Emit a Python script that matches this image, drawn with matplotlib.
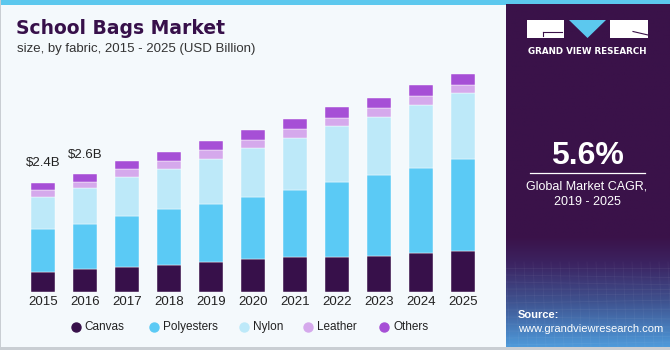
import numpy as np
import matplotlib
matplotlib.use("Agg")
import matplotlib.pyplot as plt
from matplotlib.patches import Rectangle, Polygon
from matplotlib.colors import LinearSegmentedColormap

years = ["2015", "2016", "2017", "2018", "2019", "2020", "2021", "2022", "2023", "2024", "2025"]
canvas = [0.44, 0.50, 0.55, 0.59, 0.65, 0.72, 0.77, 0.77, 0.80, 0.85, 0.91]
polyesters = [0.94, 0.99, 1.11, 1.23, 1.29, 1.37, 1.47, 1.65, 1.76, 1.88, 2.00]
nylon = [0.71, 0.78, 0.86, 0.88, 0.98, 1.06, 1.14, 1.22, 1.27, 1.37, 1.46]
leather = [0.15, 0.15, 0.17, 0.18, 0.20, 0.18, 0.20, 0.18, 0.20, 0.20, 0.18]
others = [0.16, 0.17, 0.18, 0.20, 0.20, 0.22, 0.22, 0.23, 0.22, 0.23, 0.24]
series_names = ["Canvas", "Polyesters", "Nylon", "Leather", "Others"]
colors = ["#37104A", "#5BCAF5", "#BDE9F9", "#D5A9EC", "#A64FD6"]
annotations = {0: "$2.4B", 1: "$2.6B"}

W, H = 670, 350
fig = plt.figure(figsize=(6.7, 3.5), dpi=100)
fig.patch.set_facecolor("#F4F9FC")

def fx(px):
    return px / W

def fy(py):
    return 1 - py / H

# background decorations
bg = fig.add_axes([0, 0, 1, 1], zorder=0)
bg.set_xlim(0, W)
bg.set_ylim(H, 0)
bg.axis("off")
bg.add_patch(Rectangle((0, 0), W, 4.5, color="#5CC8EE", lw=0))
bg.add_patch(Rectangle((0, 0), 1.2, H, color="#C9CED3", lw=0))
bg.add_patch(Rectangle((0, 347), W, 3, color="#C9CED3", lw=0))

# right panel with gradient
px0, px1, py0, py1 = 506, 670, 4.5, 347
cmap = LinearSegmentedColormap.from_list(
    "panel",
    [(0.0, "#3A1249"), (0.68, "#3A1249"), (0.76, "#3C2462"),
     (0.87, "#3F5390"), (1.0, "#4E9ADA")])
grad = np.linspace(0, 1, 256).reshape(-1, 1)
bg.imshow(grad, cmap=cmap, extent=(px0, px1, py1, py0), aspect="auto", zorder=1)
# faint mesh lines near bottom
for i in range(12):
    yy = 268 + i * 7
    bg.plot([px0, px1], [yy, yy + 3 * np.sin(i)], color="white", alpha=0.05, lw=0.6, zorder=2)
for j in range(20):
    xx = px0 + j * 9
    bg.plot([xx, xx + 4], [262, py1], color="white", alpha=0.045, lw=0.6, zorder=2)
bg.set_xlim(0, W)
bg.set_ylim(H, 0)

# logo
bg.add_patch(Rectangle((527, 20), 37, 18, color="white", lw=0, zorder=3))
bg.plot([543, 562], [32, 32], color="#3A1249", lw=0.8, zorder=4)
bg.plot([543, 543], [32, 36], color="#3A1249", lw=0.8, zorder=4)
bg.add_patch(Polygon([[569, 20], [606, 20], [587.5, 38]], color="#5CC8EE", lw=0, zorder=3))
bg.add_patch(Rectangle((610, 20), 38, 18, color="white", lw=0, zorder=3))
bg.plot([633, 648], [31.5, 35], color="#3A1249", lw=0.8, zorder=4)
fig.text(fx(587.5), fy(51), "GRAND VIEW RESEARCH", color="white", fontsize=6.3,
         fontweight="bold", ha="center", va="center", family="DejaVu Sans")

fig.text(fx(587), fy(156), "5.6%", color="white", fontsize=23, fontweight="bold",
         ha="center", va="center", family="Liberation Sans")
bg.plot([530, 645], [173, 173], color="white", lw=0.9, zorder=4)
fig.text(fx(587), fy(186), "Global Market CAGR,", color="white", fontsize=9,
         ha="center", va="center", family="Liberation Sans")
fig.text(fx(587), fy(202), "2019 - 2025", color="white", fontsize=9,
         ha="center", va="center", family="Liberation Sans")
fig.text(fx(518), fy(315), "Source:", color="white", fontsize=8, fontweight="bold",
         ha="left", va="center", family="Liberation Sans")
fig.text(fx(518), fy(329), "www.grandviewresearch.com", color="white", fontsize=8,
         ha="left", va="center", family="Liberation Sans")

# titles
fig.text(fx(16), fy(29), "School Bags Market", color="#37104A", fontsize=13.5,
         fontweight="heavy", ha="left", va="center", family="DejaVu Sans")
fig.text(fx(17), fy(49), "size, by fabric, 2015 - 2025 (USD Billion)", color="#333333",
         fontsize=9.5, ha="left", va="center", family="Liberation Sans")

# main bar chart
ppu_x = 42.0
ppb = 45.6
x_left, x_right = -0.6, 10.6
ytop = 5.2
base_px = 292
ax_left = 43.3 + x_left * ppu_x
ax_width = (x_right - x_left) * ppu_x
ax = fig.add_axes([fx(ax_left), (H - base_px) / H, ax_width / W, ytop * ppb / H], zorder=5)
ax.set_facecolor("none")
x = np.arange(len(years))
bottom = np.zeros(len(years))
for vals, c in zip([canvas, polyesters, nylon, leather, others], colors):
    ax.bar(x, vals, 0.57, bottom=bottom, color=c, edgecolor="white", linewidth=0.3)
    bottom += np.array(vals)
for i, txt in annotations.items():
    ax.text(x[i], bottom[i] + 0.42, txt, ha="center", va="center", fontsize=9.5,
            color="#222222", family="Liberation Sans")
ax.set_xlim(x_left, x_right)
ax.set_ylim(0, ytop)
ax.set_xticks(x)
ax.set_xticklabels(years, fontsize=9.5, color="#222222", family="Liberation Sans")
ax.tick_params(axis="x", length=0, pad=3)
ax.set_yticks([])
for s in ax.spines.values():
    s.set_visible(False)

# legend
leg_marks = [75.7, 154, 244, 308, 384]
for name, c, mx in zip(series_names, colors, leg_marks):
    bg.scatter([mx], [327], s=42, color=c, zorder=4)
    fig.text(fx(mx + 9), fy(327), name, fontsize=8.5, color="#222222",
             ha="left", va="center", family="Liberation Sans")

fig.savefig("out.png", dpi=100, facecolor=fig.get_facecolor())
